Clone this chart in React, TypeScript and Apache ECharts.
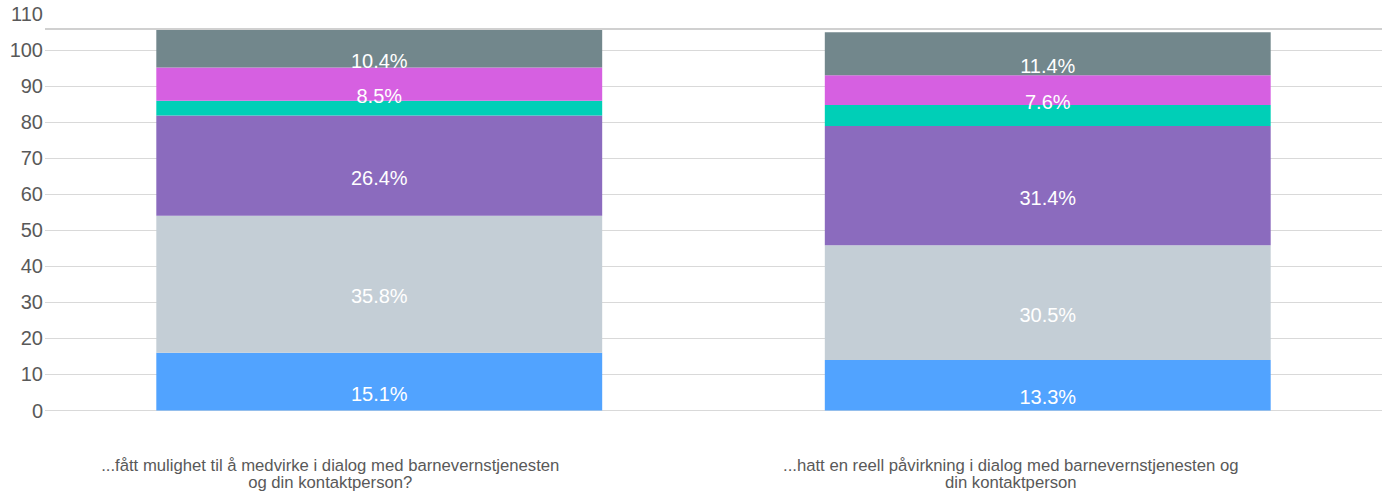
import React, { useEffect, useRef } from "react";
import * as echarts from "echarts";

const categories = [
  "...fått mulighet til å medvirke i dialog med barnevernstjenesten\nog din kontaktperson?",
  "...hatt en reell påvirkning i dialog med barnevernstjenesten og\ndin kontaktperson",
];

const seriesNames = ["Serie 1", "Serie 2", "Serie 3", "Serie 4", "Serie 5", "Serie 6"];
const seriesColors = ["#51A3FF", "#C4CED6", "#8B6BBE", "#00CFB7", "#D660E1", "#72878C"];

// segment heights
const s1Values = [16.0, 14.0];
const s2Values = [38.1, 31.9];
const s3Values = [27.8, 33.1];
const s4Values = [4.1, 5.8];
const s5Values = [9.2, 8.3];
const s6Values = [10.6, 11.9];

// printed labels
const s1Labels = ["15.1%", "13.3%"];
const s2Labels = ["35.8%", "30.5%"];
const s3Labels = ["26.4%", "31.4%"];
const s4Labels: (string | null)[] = [null, null];
const s5Labels = ["8.5%", "7.6%"];
const s6Labels = ["10.4%", "11.4%"];

const topLineValue = 106.05;
const yTicks = [0, 10, 20, 30, 40, 50, 60, 70, 80, 90, 100, 110];

const allValues = [s1Values, s2Values, s3Values, s4Values, s5Values, s6Values];
const allLabels = [s1Labels, s2Labels, s3Labels, s4Labels, s5Labels, s6Labels];

const FONT = "'Liberation Sans', Arial, sans-serif";
const CAT_FS = 16.7;

export default function App() {
  const ref = useRef<HTMLDivElement>(null);
  useEffect(() => {
    document.body.style.margin = "0";
    if (!ref.current) return;
    const chart = echarts.init(ref.current, null, { renderer: "svg" });
    const series: any[] = allValues.map((vals, si) => ({
      name: seriesNames[si],
      type: "bar",
      stack: "total",
      barWidth: "66.7%",
      itemStyle: { color: seriesColors[si] },
      data: vals.map((v, i) => ({
        value: v,
        label: {
          show: allLabels[si][i] != null,
          formatter: allLabels[si][i] ?? "",
        },
      })),
      label: {
        show: true,
        position: "inside",
        offset: [0, 12],
        color: "#ffffff",
        fontSize: 20,
        fontFamily: FONT,
      },
      emphasis: { disabled: true },
    }));
    series[5].markLine = {
      silent: true,
      symbol: "none",
      label: { show: false },
      lineStyle: { color: "#d0d0d0", width: 2, type: "solid" },
      data: [{ yAxis: topLineValue }],
    };
    chart.setOption({
      animation: false,
      grid: { left: 45, right: 9, top: 14.3, bottom: 88.5, containLabel: false },
      xAxis: {
        type: "category",
        data: categories,
        axisLine: { show: false },
        axisTick: { show: false },
        axisLabel: {
          margin: 46,
          interval: 0,
          color: "#595959",
          fontSize: CAT_FS,
          fontFamily: FONT,
          lineHeight: 17,
          formatter: (value: string, index: number) =>
            value
              .split("\n")
              .map((l) => `{a${index}|${l}}`)
              .join("\n"),
          rich: {
            a0: { padding: [0, 98, 0, 0], fontSize: CAT_FS, lineHeight: 17, color: "#595959", fontFamily: FONT },
            a1: { padding: [0, 74, 0, 0], fontSize: CAT_FS, lineHeight: 17, color: "#595959", fontFamily: FONT },
          },
        },
      },
      yAxis: {
        type: "value",
        min: yTicks[0],
        max: yTicks[yTicks.length - 1],
        interval: 10,
        axisLine: { show: false },
        axisTick: { show: false },
        axisLabel: {
          margin: 2,
          color: "#595959",
          fontSize: 20,
          fontFamily: FONT,
          padding: [10, 0, 0, 0],
        },
        splitLine: {
          show: true,
          showMaxLine: false,
          lineStyle: { color: "#d9d9d9", width: 1 },
        },
      },
      series,
    });
    return () => chart.dispose();
  }, []);
  return <div ref={ref} style={{ width: 1391, height: 499 }} />;
}
